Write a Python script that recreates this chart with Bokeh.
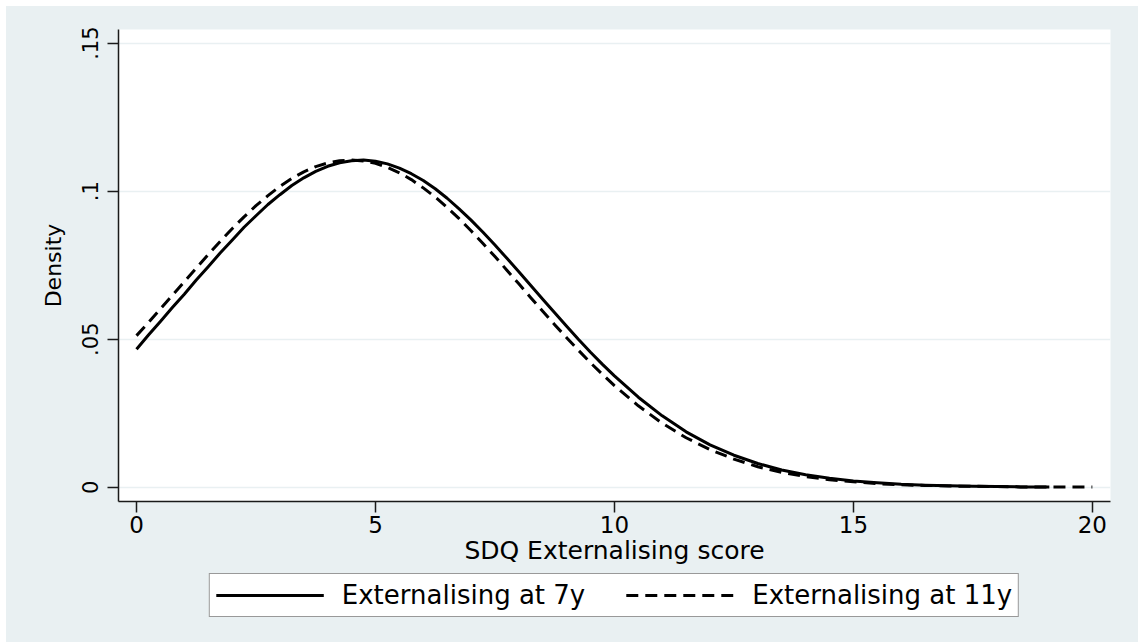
from bokeh.plotting import figure
from bokeh.models import Range1d, FixedTicker, Legend, LegendItem
from bokeh.layouts import column
from bokeh.embed import file_html
from bokeh.resources import INLINE

# Values
x_7y = [0, 0.25, 0.5, 0.75, 1, 1.25, 1.5, 1.75, 2, 2.25, 2.5, 2.75, 3, 3.25, 3.5, 3.75,
        4, 4.25, 4.5, 4.75, 5, 5.25, 5.5, 5.75, 6, 6.25, 6.5, 6.75, 7, 7.25, 7.5, 7.75,
        8, 8.25, 8.5, 8.75, 9, 9.25, 9.5, 9.75, 10,
        10.5, 11, 11.5, 12, 12.5, 13, 13.5, 14, 14.5, 15, 15.5, 16, 16.5, 17, 17.5,
        18, 18.5, 19.1]
dens_7y = [0.0466, 0.0514, 0.0560, 0.0607, 0.0652, 0.0700, 0.0745, 0.0791, 0.0834, 0.0878,
           0.0917, 0.0955, 0.0988, 0.1019, 0.1045, 0.1067, 0.1084, 0.1096, 0.1103, 0.1105,
           0.1101, 0.1092, 0.1078, 0.1059, 0.1036, 0.1008, 0.0976, 0.0940, 0.0902, 0.0861,
           0.0818, 0.0773, 0.0728, 0.0681, 0.0635, 0.0589, 0.0544, 0.0499, 0.0456, 0.0415,
           0.0376,
           0.0304, 0.0241, 0.0187, 0.0143, 0.0108, 0.0080, 0.0058, 0.0042, 0.0030,
           0.0021, 0.0015, 0.0010, 0.0007, 0.0005, 0.0003, 0.0002, 0.0001, 0.0001]

x_11y = [0, 0.25, 0.5, 0.75, 1, 1.25, 1.5, 1.75, 2, 2.25, 2.5, 2.75, 3, 3.25, 3.5, 3.75,
         4, 4.25, 4.5, 4.75, 5, 5.25, 5.5, 5.75, 6, 6.25, 6.5, 6.75, 7, 7.25, 7.5, 7.75,
         8, 8.25, 8.5, 8.75, 9, 9.25, 9.5, 9.75, 10,
         10.5, 11, 11.5, 12, 12.5, 13, 13.5, 14, 14.5, 15, 15.5, 16, 16.5, 17, 17.5,
         18, 18.5, 19, 19.5, 20]
dens_11y = [0.0512, 0.0556, 0.0602, 0.0648, 0.0694, 0.0740, 0.0786, 0.0830, 0.0873, 0.0913,
            0.0951, 0.0985, 0.1016, 0.1043, 0.1065, 0.1083, 0.1095, 0.1103, 0.1105, 0.1102,
            0.1094, 0.1080, 0.1062, 0.1039, 0.1011, 0.0980, 0.0945, 0.0907, 0.0866, 0.0823,
            0.0779, 0.0733, 0.0687, 0.0640, 0.0594, 0.0549, 0.0505, 0.0462, 0.0420, 0.0381,
            0.0343,
            0.0275, 0.0216, 0.0167, 0.0127, 0.0095, 0.0069, 0.0050, 0.0036, 0.0025,
            0.0018, 0.0012, 0.0008, 0.0006, 0.0004, 0.0003, 0.0002, 0.0001, 0.0001, 0.0001,
            0.0001]

x_ticks = [0, 5, 10, 15, 20]
y_ticks = [0, 0.05, 0.1, 0.15]
y_tick_labels = {0: "0", 0.05: ".05", 0.1: ".1", 0.15: ".15"}

series_labels = ["Externalising at 7y", "Externalising at 11y"]
x_title = "SDQ Externalising score"
y_title = "Density"

BG = "#E9F0F2"
FONT = "DejaVu Sans"
DASH = "12 7"

# ---------------- main plot ----------------
p = figure(frame_width=992, frame_height=472, output_backend="svg", toolbar_location=None,
           x_range=Range1d(-0.377, 20.38), y_range=Range1d(-0.00483, 0.1546),
           min_border_left=112, min_border_right=28, min_border_top=23, min_border_bottom=70)
p.background_fill_color = "white"
p.border_fill_color = BG
p.outline_line_color = None

p.line(x_7y, dens_7y, line_color="black", line_width=3, line_join="round")
p.line(x_11y, dens_11y, line_color="black", line_width=3, line_dash=DASH, line_join="round")

p.xgrid.grid_line_color = None
p.ygrid.grid_line_color = BG
p.ygrid.grid_line_width = 1.5

for ax in (p.xaxis[0], p.yaxis[0]):
    ax.axis_line_color = "#1a1a1a"
    ax.axis_line_width = 1.5
    ax.major_tick_line_color = "#1a1a1a"
    ax.major_tick_line_width = 1.5
    ax.major_tick_out = 11
    ax.major_tick_in = 0
    ax.minor_tick_line_color = None
    ax.major_label_text_font = FONT
    ax.major_label_text_color = "black"
    ax.axis_label_text_font = FONT
    ax.axis_label_text_font_style = "normal"
    ax.axis_label_text_color = "black"

p.xaxis.ticker = FixedTicker(ticks=x_ticks)
p.xaxis.major_label_text_font_size = "23px"
p.xaxis.major_label_standoff = 3
p.xaxis.axis_label = x_title
p.xaxis.axis_label_text_font_size = "25px"
p.xaxis.axis_label_standoff = 0

p.yaxis.ticker = FixedTicker(ticks=y_ticks)
p.yaxis.major_label_overrides = y_tick_labels
p.yaxis.major_label_orientation = "vertical"
p.yaxis.major_label_text_font_size = "21px"
p.yaxis.major_label_standoff = 9
p.yaxis.axis_label = y_title
p.yaxis.axis_label_text_font_size = "22px"
p.yaxis.axis_label_standoff = 14

# ---------------- legend strip ----------------
q = figure(frame_width=992, frame_height=71, output_backend="svg", toolbar_location=None,
           x_range=Range1d(100, 101), y_range=Range1d(100, 101),
           min_border_left=112, min_border_right=28, min_border_top=0, min_border_bottom=0)
q.axis.visible = False
q.grid.visible = False
q.outline_line_color = None
q.background_fill_alpha = 0
q.border_fill_color = BG
# legend keys (same series; outside this strip's ranges, so only the keys show)
k1 = q.line(x_7y, dens_7y, line_color="black", line_width=3)
k2 = q.line(x_11y, dens_11y, line_color="black", line_width=3, line_dash=DASH)

legend = Legend(items=[LegendItem(label=series_labels[0], renderers=[k1]),
                       LegendItem(label=series_labels[1], renderers=[k2])],
                orientation="horizontal", location="top_center")
legend.label_text_font = FONT
legend.label_text_font_size = "26px"
legend.label_text_color = "black"
legend.glyph_width = 108
legend.glyph_height = 20
legend.label_standoff = 18
legend.spacing = 41
legend.padding = 6
legend.margin = 2
legend.border_line_color = "#333333"
legend.border_line_width = 1.5
legend.background_fill_color = "white"
legend.background_fill_alpha = 1
q.add_layout(legend, "center")

layout = column(p, q, spacing=0)
layout.margin = (6, 0, 0, 6)
layout.styles = {"background-color": BG}

open("out.html", "w").write(file_html(layout, INLINE))
